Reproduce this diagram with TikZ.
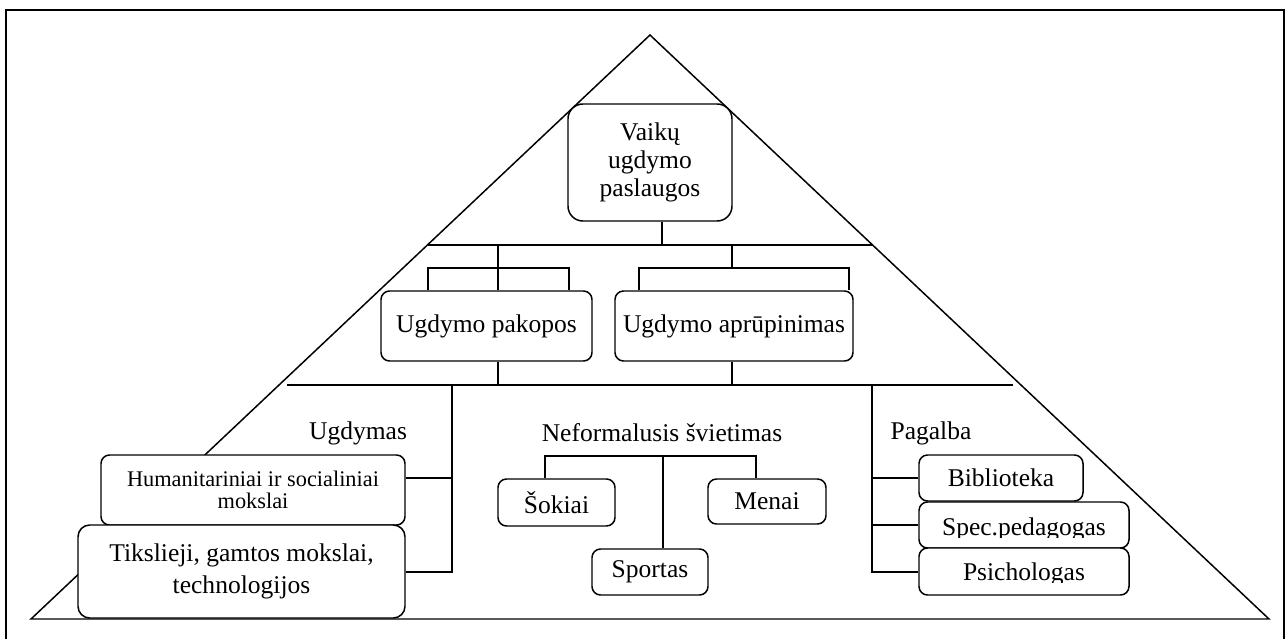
\documentclass[tikz,border=0pt]{standalone}
\usepackage{fontspec}
\setmainfont{Liberation Serif}
\newcommand\pxu{0.47pt}
\begin{document}
\begin{tikzpicture}[x=0.47pt,y=-0.47pt,line width=0.7pt,
  txt/.style={font=\fontsize{12}{13}\selectfont,inner sep=0pt,align=center},
  box/.style={draw,fill=white,rounded corners=4pt,inner sep=0pt,align=center,
    font=\fontsize{12}{13}\selectfont},
  frame/.style={line width=1.1pt}]
\useasboundingbox (0,0) rectangle (1285,639);
% outer frame
\draw[frame] (6,660) -- (6,10) -- (1284,10) -- (1284,660);
% pyramid with its two level lines
\draw (31,619) -- (650,35) -- (1269,619) -- cycle;
\coordinate (bus1) at (0,245);
\coordinate (bus2) at (0,385);
\draw (428,245) -- (873,245);
\draw (287,385) -- (1013,385);

% boxes
\node[box,rounded corners=7pt,minimum width=164*\pxu,minimum height=117*\pxu] (top) at (650,162.5) {Vaikų\\ugdymo\\paslaugos};
\node[box,minimum width=211*\pxu,minimum height=70*\pxu] (pak) at (486.5,326) {Ugdymo pakopos};
\node[box,minimum width=238*\pxu,minimum height=70*\pxu] (apr) at (734,326) {Ugdymo aprūpinimas};
\node[box,font=\fontsize{10.5}{10.5}\selectfont,minimum width=304*\pxu,minimum height=70*\pxu] (hum) at (253,490) {Humanitariniai ir socialiniai\\mokslai};
\node[box,rounded corners=5.5pt,font=\fontsize{12}{15}\selectfont,minimum width=327*\pxu,minimum height=93*\pxu] (tik) at (241.5,571.5) {Tikslieji, gamtos mokslai,\\technologijos};
\node[box,minimum width=117*\pxu,minimum height=47*\pxu] (sok) at (556.5,502.5) {Šokiai};
\node[box,minimum width=118*\pxu,minimum height=45*\pxu] (men) at (767,501.5) {Menai};
\node[box,minimum width=116*\pxu,minimum height=46*\pxu] (spo) at (650,572) {Sportas};
\node[box,minimum width=164*\pxu,minimum height=46*\pxu] (bib) at (1001,478) {Biblioteka};
\node[box,minimum width=210*\pxu,minimum height=46*\pxu] (spe) at (1024,525) {};
\node[box,minimum width=210*\pxu,minimum height=47*\pxu] (psi) at (1024,571.5) {};
% texts of the two lowest help boxes, cut at the lower edge of their text frames
\begin{scope}
  \clip (919,502) rectangle (1129,537);
  \node[txt,anchor=base] (spet) at (1024,535) {Spec.pedagogas};
\end{scope}
\begin{scope}
  \clip (919,549) rectangle (1129,582);
  \node[txt,anchor=base] (psit) at (1024,580) {Psichologas};
\end{scope}

% group labels
\node[txt] (ugd) at (358,433) {Ugdymas};
\node[txt] (nef) at (662,433) {Neformalusis švietimas};
\node[txt] (pag) at (931,433) {Pagalba};

% top box to first level line
\coordinate (t1) at (662,245);
\draw (top.south -| t1) -- (t1);
% first level line to Ugdymo pakopos
\coordinate (l0) at (498,245);
\coordinate (la) at (428,268);
\coordinate (lb) at (569,268);
\draw (l0) -- (l0 |- pak.north);
\draw (la |- pak.north) -- (la) -- (lb) -- (lb |- pak.north);
% first level line to Ugdymo aprūpinimas
\coordinate (r0) at (732,245);
\coordinate (r1) at (732,268);
\coordinate (ra) at (639,268);
\coordinate (rb) at (849,268);
\draw (r0) -- (r1);
\draw (ra |- apr.north) -- (ra) -- (rb) -- (rb |- apr.north);
% second level boxes down to the second level line
\draw (pak.south -| l0) -- (l0 |- bus2);
\draw (apr.south -| r0) -- (r0 |- bus2);

% Ugdymas branch
\coordinate (u0) at (452,385);
\coordinate (u1) at (452,572);
\coordinate (u2) at (452,478);
\draw (u0) -- (u1) -- (tik.east |- u1);
\draw (u2) -- (hum.east |- u2);

% Neformalusis svietimas branch
\coordinate (na) at (545,456);
\coordinate (nb) at (756,456);
\coordinate (nc) at (663,456);
\draw (na |- sok.north) -- (na) -- (nb) -- (nb |- men.north);
\draw (nc) -- (nc |- spo.north);

% Pagalba branch
\coordinate (p0) at (872,385);
\coordinate (p1) at (872,572);
\coordinate (p2) at (872,478);
\coordinate (p3) at (872,525);
\draw (p0) -- (p1) -- (psi.west |- p1);
\draw (p2) -- (bib.west |- p2);
\draw (p3) -- (spe.west |- p3);
\end{tikzpicture}
\end{document}
